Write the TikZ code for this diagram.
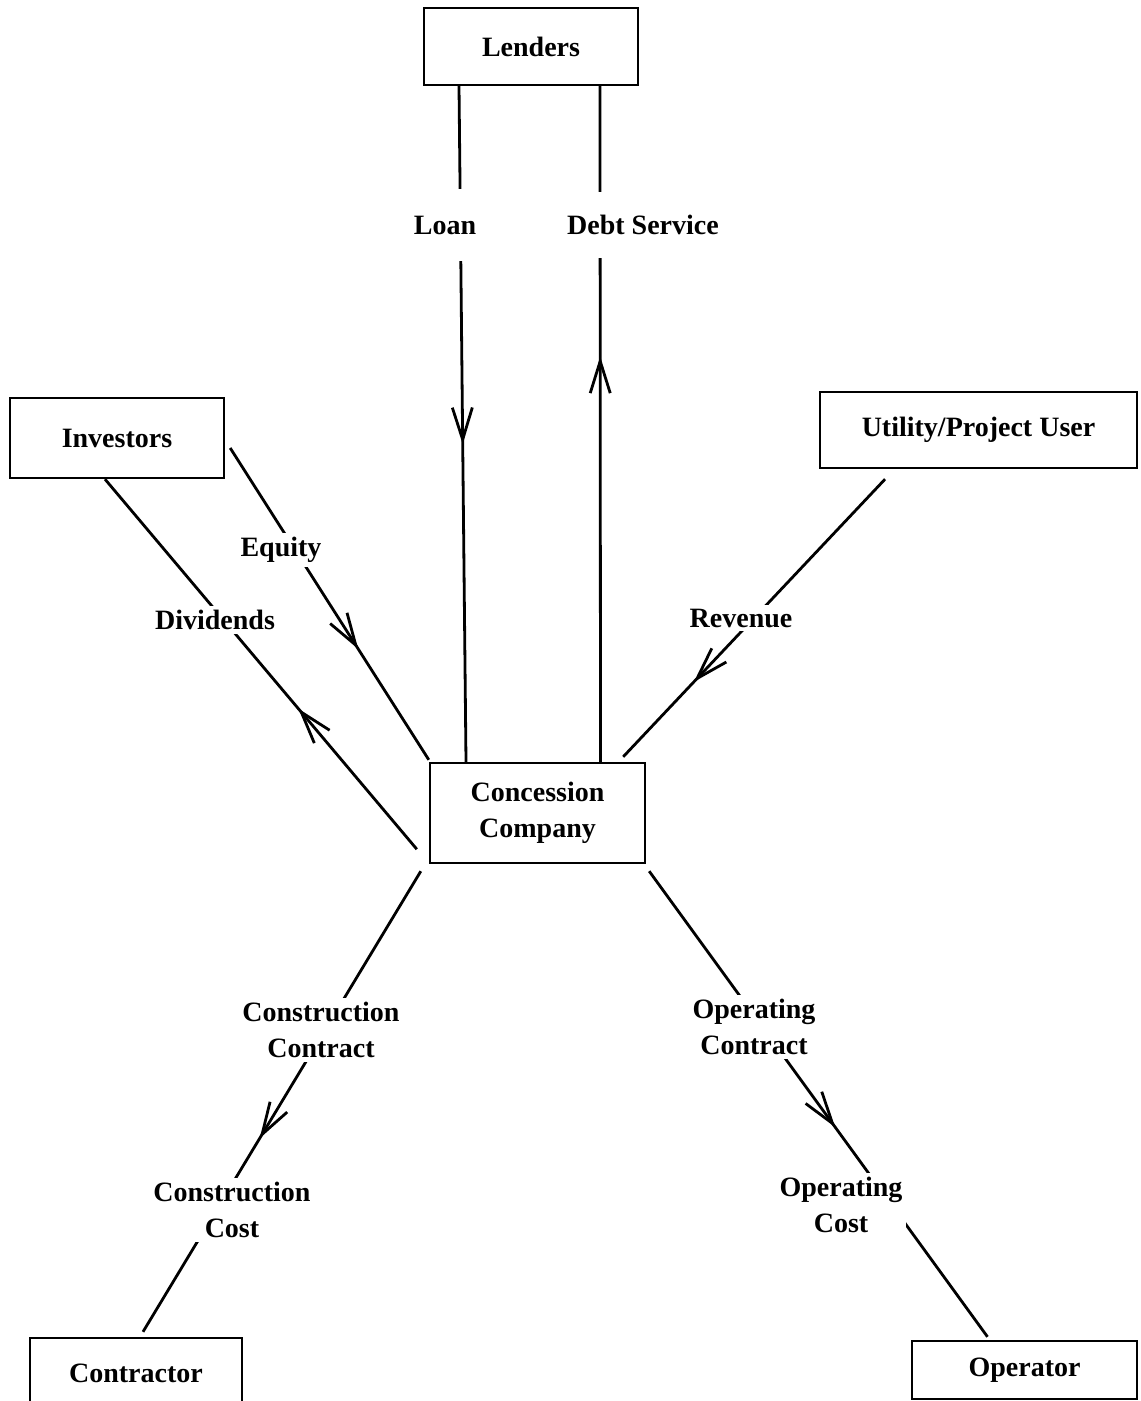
\documentclass[tikz,border=0pt]{standalone}
\usepackage{fontspec}
\setmainfont{Liberation Serif}
\usetikzlibrary{arrows.meta,decorations.markings,calc}

\begin{document}
\begin{tikzpicture}[x=0.5pt,y=-0.5pt,
  txt/.style={font=\fontsize{14}{18}\selectfont\bfseries, align=center},
  party/.style={txt, draw, line width=1.2pt, inner sep=0pt},
  flow/.style={line width=1.4pt},
  lbl/.style={txt, fill=white, inner sep=2pt},
  midarrow/.style={postaction={decorate},
    decoration={markings, mark=at position #1 with
      {\arrow{Straight Barb[length=16pt,width=10pt,line width=1.4pt]}}}},
]
\useasboundingbox (0,0) rectangle (1140,1401);
\clip (0,0) rectangle (1140,1401);

% parties
\node[party, minimum width=107pt, minimum height=38.5pt] (len)  at (531,46.5)  {Lenders};
\node[party, minimum width=107pt, minimum height=40pt]   (inv)  at (117,438)   {Investors};
\node[party, minimum width=158.5pt, minimum height=38pt] (util) at (978.5,430) {Utility/Project User};
\node[party, minimum width=107.5pt, minimum height=50pt] (con)  at (537.5,813) {Concession\\Company};
\node[party, minimum width=106pt, minimum height=35pt]   (ctr)  at (136,1373)  {Contractor};
\node[party, minimum width=112.5pt, minimum height=29pt] (op)   at (1024.5,1370) {Operator};

% money flows
\draw[flow, midarrow=0.53]  ($(len.south)+(-72,0)$)        -- ($(con.north)+(-71.5,0)$);
\draw[flow, midarrow=0.60]  ($(con.north)+(63,0)$)         -- ($(len.south)+(69,0)$);
\draw[flow, midarrow=0.645] ($(inv.east)+(5,10)$)          -- ($(con.north west)+(0,-2)$);
\draw[flow, midarrow=0.38]  ($(con.south west)+(-12,-15)$) -- ($(inv.south)+(-12,0)$);
\draw[flow, midarrow=0.73]  ($(util.south)+(-93.5,10)$)    -- ($(con.north east)+(-23,-5)$);
\draw[flow, midarrow=0.58]  ($(con.south west)+(-8,7)$)    -- ($(ctr.north)+(7,-5)$);
\draw[flow, midarrow=0.55]  ($(con.south east)+(3,7)$)     -- ($(op.north)+(-37,-3)$);

% flow labels
\node[lbl, minimum height=36pt] at (445,225)  {Loan};
\node[lbl, minimum height=33pt] at (643,225)  {Debt Service};
\node[lbl] at (281,550)  {Equity};
\node[lbl] at (215,620)  {Dividends};
\node[lbl] at (741,618)  {Revenue};
\node[lbl] at (321,1030) {Construction\\Contract};
\node[lbl] at (232,1210) {Construction\\Cost};
\node[lbl] at (754,1027) {Operating\\Contract};
\node[lbl] at (841,1205) {Operating\\Cost};
\end{tikzpicture}
\end{document}
